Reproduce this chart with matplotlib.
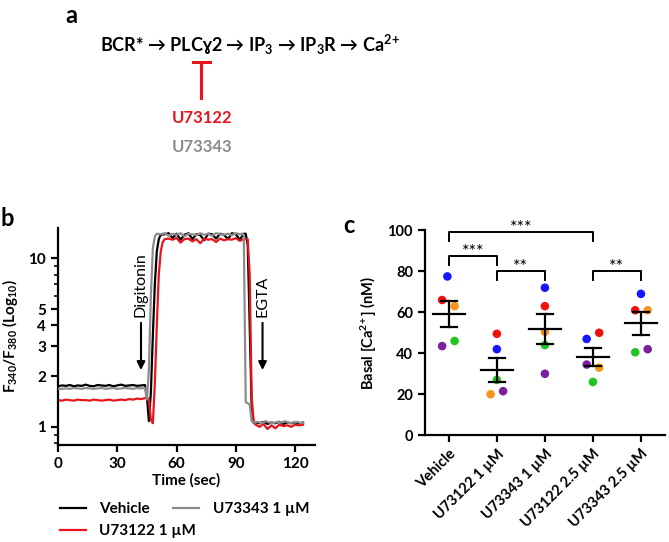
import numpy as np
import matplotlib
matplotlib.use('Agg')
from matplotlib import pyplot as plt

plt.rcParams['font.family'] = ['Lato', 'DejaVu Sans']
plt.rcParams['mathtext.fontset'] = 'custom'
plt.rcParams['mathtext.rm'] = 'Lato:bold'
plt.rcParams['mathtext.bf'] = 'Lato:bold'
plt.rcParams['mathtext.it'] = 'Lato:bold:italic'

# ---- panel b traces (time in sec, F340/F380 ratio)
veh_t = [0, 2, 4, 6, 8, 10, 12, 14, 16, 18, 20, 22, 24, 26, 28, 30, 32, 34, 36, 38, 40, 42, 44,
         45, 46, 47, 48, 49, 50, 51, 52,
         54, 56, 58, 60, 62, 64, 66, 68, 70, 72, 74, 76, 78, 80, 82, 84, 86, 88, 90, 92, 94,
         95, 96, 97, 98, 99, 100,
         102, 104, 106, 108, 110, 112, 114, 116, 118, 120, 122, 124]
veh_y = [1.74, 1.76, 1.75, 1.77, 1.74, 1.76, 1.75, 1.78, 1.75, 1.74, 1.77, 1.76, 1.75, 1.77, 1.74, 1.76, 1.78, 1.75, 1.76, 1.77, 1.75, 1.76, 1.77,
         1.5, 1.08, 1.6, 3.5, 7.0, 11.0, 13.0, 13.8,
         13.9, 14.1, 13.2, 14.0, 12.9, 13.8, 14.1, 13.0, 13.9, 13.7, 12.8, 14.0, 13.9, 13.1, 14.0, 13.8, 13.0, 14.1, 13.9, 12.9, 14.0,
         14.0, 12.0, 4.0, 1.3, 1.05, 1.06,
         1.05, 1.07, 1.04, 1.06, 1.05, 1.07, 1.04, 1.06, 1.05, 1.06, 1.05, 1.06]

gray_t = [0, 2, 4, 6, 8, 10, 12, 14, 16, 18, 20, 22, 24, 26, 28, 30, 32, 34, 36, 38, 40, 42, 44,
          45, 46, 47, 48, 49, 50,
          52, 54, 56, 58, 60, 62, 64, 66, 68, 70, 72, 74, 76, 78, 80, 82, 84, 86, 88, 90, 92,
          93, 94, 95, 96, 97, 98,
          99, 101, 103, 105, 107, 109, 111, 113, 115, 117, 119, 121, 123, 124]
gray_y = [1.67, 1.68, 1.69, 1.68, 1.70, 1.69, 1.68, 1.70, 1.69, 1.68, 1.69, 1.70, 1.68, 1.69, 1.70, 1.68, 1.69, 1.70, 1.69, 1.68, 1.70, 1.69, 1.70,
          1.45, 2.2, 6.0, 11.5, 13.5, 14.0,
          13.9, 14.1, 13.6, 14.0, 13.8, 14.1, 13.5, 14.0, 13.9, 13.7, 14.1, 13.8, 14.0, 13.6, 14.1, 13.9, 13.8, 14.0, 13.7, 14.1, 13.9,
          14.0, 13.8, 1.4, 1.38, 1.36, 1.08,
          1.06, 1.07, 1.05, 1.08, 1.06, 1.05, 1.07, 1.06, 1.08, 1.05, 1.06, 1.07, 1.05, 1.06]

red_t = [0, 2, 4, 6, 8, 10, 12, 14, 16, 18, 20, 22, 24, 26, 28, 30, 32, 34, 36, 38, 40, 42, 44, 46,
         47, 48, 49, 50, 51, 52, 53, 54,
         56, 58, 60, 62, 64, 66, 68, 70, 72, 74, 76, 78, 80, 82, 84, 86, 88, 90, 92, 94, 96,
         97, 98, 99,
         100, 102, 104, 106, 108, 110, 112, 114, 116, 118, 120, 122, 124]
red_y = [1.44, 1.43, 1.45, 1.44, 1.43, 1.45, 1.44, 1.44, 1.43, 1.45, 1.44, 1.43, 1.44, 1.45, 1.43, 1.44, 1.45, 1.44, 1.46, 1.45, 1.47, 1.46, 1.48, 1.47,
         1.1, 1.05, 1.8, 4.0, 8.0, 11.0, 12.5, 13.0,
         13.1, 12.9, 13.2, 12.4, 13.0, 13.1, 12.6, 13.0, 12.3, 13.1, 12.9, 13.0, 12.5, 13.1, 12.8, 13.0, 12.9, 13.2, 12.7, 13.0, 13.0,
         8.0, 1.5, 1.08,
         1.03, 1.0, 1.04, 0.97, 1.02, 0.98, 1.03, 1.01, 1.02, 1.0, 1.03, 1.02, 1.03]

# ---- panel c
groups = ['Vehicle', 'U73122 1 µM', 'U73343 1 µM', 'U73122 2.5 µM', 'U73343 2.5 µM']
donor_colors = ['#1515ff', '#f01010', '#f7941d', '#22c422', '#7a1fa0']  # blue, red, orange, green, purple
basal = [[77.5, 66.0, 63.0, 46.0, 43.5],
         [42.0, 49.5, 20.0, 27.0, 21.5],
         [72.0, 63.0, 50.5, 44.0, 30.0],
         [47.0, 50.0, 33.0, 26.0, 34.5],
         [69.0, 61.0, 61.0, 40.5, 42.0]]
jitter = [[-0.03, -0.14, 0.12, 0.12, -0.14],
          [0.0, 0.0, -0.13, 0.0, 0.13],
          [0.0, 0.0, 0.0, 0.0, 0.0],
          [-0.13, 0.13, 0.13, 0.0, -0.13],
          [0.0, -0.12, 0.14, -0.12, 0.14]]
# (left group, right group, bar height, label)
sig = [(0, 3, 99.0, '***'), (0, 1, 87.3, '***'), (1, 2, 80.0, '**'), (3, 4, 80.0, '**')]

fig = plt.figure(figsize=(6.69, 5.42), dpi=100)

# ---- panel a : scheme
fig.text(0.097, 0.993, 'a', fontsize=17, fontweight='bold', va='top', ha='left')
fig.text(0.373, 0.918, r'BCR* → PLCɣ2 → IP$_3$ → IP$_3$R → Ca$^{2\!+}$', fontsize=13,
         fontweight='bold', ha='center', va='center')
fig.add_artist(plt.Line2D([0.301, 0.301], [0.885, 0.819], color='#e8141c', lw=2.2))
fig.add_artist(plt.Line2D([0.288, 0.314], [0.885, 0.885], color='#e8141c', lw=2.2))
fig.text(0.302, 0.782, 'U73122', fontsize=12, fontweight='bold', color='#e8141c', ha='center', va='center')
fig.text(0.302, 0.728, 'U73343', fontsize=12, fontweight='bold', color='#8c8c8c', ha='center', va='center')

# ---- panel b : traces
axb = fig.add_axes([0.0867, 0.179, 0.384, 0.400])
axb.plot(gray_t, gray_y, color='#8c8c8c', lw=1.6, label='U73343 1 µM', zorder=3)
axb.plot(veh_t, veh_y, color='black', lw=1.6, label='Vehicle', zorder=2)
axb.plot(red_t, red_y, color='#e8141c', lw=1.6, label='U73122 1 µM', zorder=2.5)
axb.set_yscale('log')
axb.set_ylim(0.78, 15.1)
axb.set_xlim(0, 130)
axb.set_xticks([0, 30, 60, 90, 120])
axb.set_yticks([1, 2, 3, 4, 5, 10])
axb.set_yticklabels(['1', '2', '3', '4', '5', '10'])
axb.minorticks_on()
axb.xaxis.set_minor_locator(matplotlib.ticker.NullLocator())
axb.yaxis.set_minor_formatter(matplotlib.ticker.NullFormatter())
for s in ['top', 'right']:
    axb.spines[s].set_visible(False)
for s in ['left', 'bottom']:
    axb.spines[s].set_linewidth(1.6)
axb.tick_params(which='major', width=1.6, length=5, labelsize=11)
axb.tick_params(which='minor', width=1.2, length=3)
for lab in axb.get_xticklabels() + axb.get_yticklabels():
    lab.set_fontweight('bold')
axb.set_xlabel('Time (sec)', fontsize=11, fontweight='bold', labelpad=2)
axb.set_ylabel(r'F$_{340}$/F$_{380}$ (Log$_{10}$)', fontsize=11, fontweight='bold', labelpad=6)
axb.annotate('', xy=(42, 2.09), xytext=(42, 4.3),
             arrowprops=dict(arrowstyle='-|>', color='black', lw=1.5, mutation_scale=12))
axb.text(42, 4.5, 'Digitonin', rotation=90, ha='center', va='bottom', fontsize=11.5)
axb.annotate('', xy=(103.5, 2.09), xytext=(103.5, 4.3),
             arrowprops=dict(arrowstyle='-|>', color='black', lw=1.5, mutation_scale=12))
axb.text(103.5, 4.5, 'EGTA', rotation=90, ha='center', va='bottom', fontsize=11.5)
h, l = axb.get_legend_handles_labels()
order = [1, 2, 0]
fig.legend([h[i] for i in order], [l[i] for i in order], ncol=2, frameon=False,
           loc='upper left', bbox_to_anchor=(0.08, 0.085),
           prop={'weight': 'bold', 'size': 11}, handlelength=1.7, handletextpad=0.9,
           columnspacing=-1.5, labelspacing=0.55, borderaxespad=0)
fig.text(0.0, 0.618, 'b', fontsize=17, fontweight='bold', va='top', ha='left')

# ---- panel c : basal calcium
axc = fig.add_axes([0.635, 0.197, 0.359, 0.378])
for gi, vals in enumerate(basal):
    xs = [gi + j for j in jitter[gi]]
    axc.scatter(xs, vals, s=38, c=donor_colors, zorder=3, linewidths=0)
    m = np.mean(vals)
    se = np.std(vals, ddof=1) / np.sqrt(len(vals))
    axc.plot([gi - 0.33, gi + 0.33], [m, m], color='black', lw=1.6, zorder=4)
    axc.plot([gi, gi], [m - se, m + se], color='black', lw=1.6, zorder=4)
    axc.plot([gi - 0.16, gi + 0.16], [m - se, m - se], color='black', lw=1.6, zorder=4)
    axc.plot([gi - 0.16, gi + 0.16], [m + se, m + se], color='black', lw=1.6, zorder=4)
for a, b, yb, txt in sig:
    axc.plot([a, a, b, b], [yb - 4.3, yb, yb, yb - 4.3], color='black', lw=1.4, clip_on=False)
    axc.text((a + b) / 2, yb - 2.0, txt, ha='center', va='bottom', fontsize=13)
axc.set_xlim(-0.5, 4.5)
axc.set_ylim(0, 100)
axc.set_yticks([0, 20, 40, 60, 80, 100])
axc.set_xticks(range(len(groups)))
axc.set_xticklabels(groups, rotation=45, ha='right', rotation_mode='anchor')
for s in ['top', 'right']:
    axc.spines[s].set_visible(False)
for s in ['left', 'bottom']:
    axc.spines[s].set_linewidth(1.6)
axc.tick_params(width=1.6, length=5, labelsize=10.5)
for lab in axc.get_xticklabels() + axc.get_yticklabels():
    lab.set_fontweight('bold')
axc.set_ylabel(r'Basal [Ca$^{2\!+}$] (nM)', fontsize=10.5, fontweight='bold', labelpad=6)
fig.text(0.513, 0.605, 'c', fontsize=17, fontweight='bold', va='top', ha='left')

fig.savefig('out.png', dpi=100)
